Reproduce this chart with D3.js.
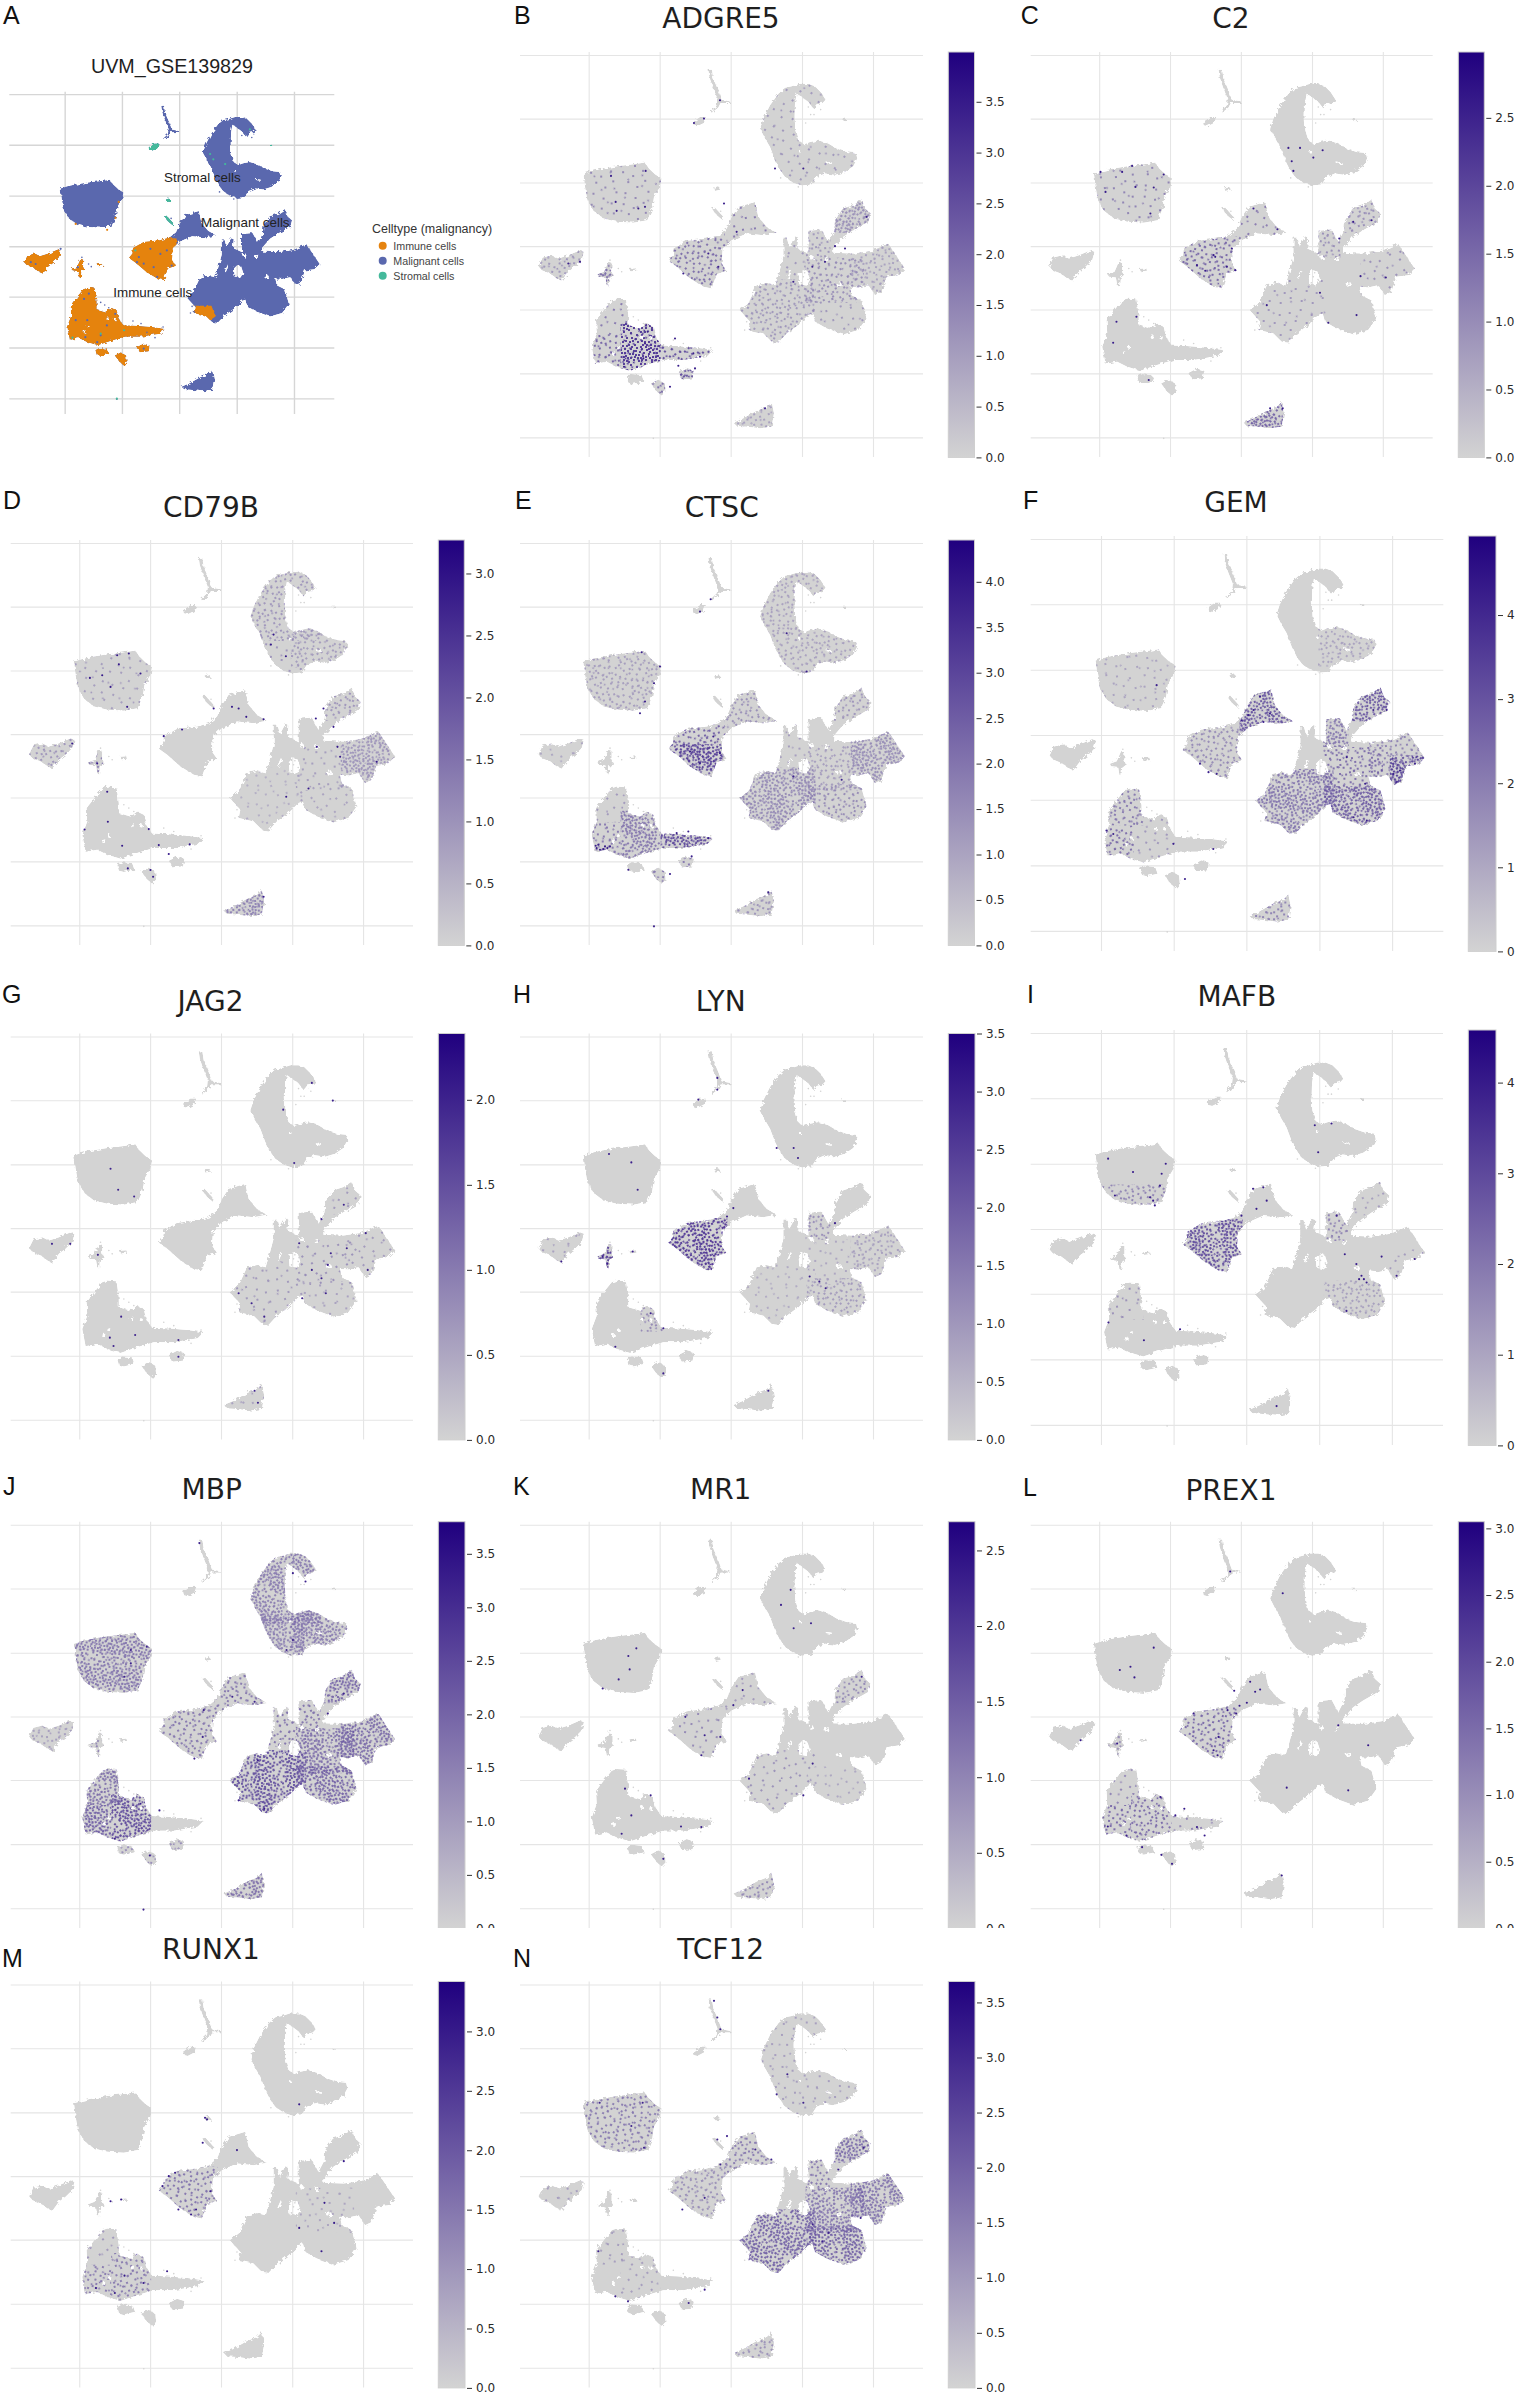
<!DOCTYPE html>
<html>
<head>
<meta charset="utf-8">
<style>
  html, body { margin: 0; padding: 0; background: #fff; }
  svg { display: block; }
</style>
<script src="https://cdn.jsdelivr.net/npm/d3@7"></script>
</head>
<body>
<svg id="chart" width="1515" height="2393"></svg>
<script>
// umap units (unlabelled axes, gridlines about 213 / 191 apart)
const xTicks = [-426, -213, 0, 214, 427];
const yTicks = [574, 383, 191, 0, -190, -382, -574];
const xDomain = [-632, 577];
const yDomain = [583, -633];

// cluster outlines
const crescent = [[183,480],[208,488],[233,488],[253,480],[270,463],[285,440],[276,430],[258,426],[248,413],[233,433],[213,448],[198,458],[193,428],[192,388],[194,348],[203,318],[220,306],[238,313],[263,318],[293,308],[318,293],[348,283],[376,280],[380,263],[368,240],[343,223],[313,214],[283,218],[258,208],[243,185],[213,182],[188,190],[163,208],[148,228],[133,258],[118,298],[103,323],[88,353],[98,383],[118,423],[143,458],[163,476]];
const square = [[-442,218],[-417,226],[-392,232],[-342,240],[-292,246],[-257,251],[-245,233],[-227,216],[-207,203],[-212,178],[-230,148],[-235,113],[-250,78],[-292,70],[-342,73],[-382,83],[-412,106],[-430,138],[-437,178]];
const leftSmall = [[-577,-60],[-564,-34],[-537,-27],[-517,-37],[-487,-27],[-452,-12],[-440,-17],[-447,-42],[-467,-62],[-487,-77],[-507,-104],[-522,-97],[-542,-82],[-567,-72]];
const cross = [[-400,-84],[-380,-77],[-367,-47],[-357,-50],[-357,-77],[-352,-87],[-364,-97],[-366,-122],[-372,-117],[-376,-94],[-397,-92]];
const dash = [[-304,-68],[-284,-66],[-282,-74],[-302,-76]];
const immuneLarge = [[-342,-157],[-314,-159],[-307,-207],[-307,-237],[-272,-247],[-252,-232],[-232,-242],[-225,-272],[-207,-298],[-162,-300],[-100,-305],[-52,-312],[-70,-330],[-142,-342],[-202,-342],[-252,-357],[-302,-374],[-342,-362],[-372,-347],[-407,-354],[-417,-302],[-402,-262],[-404,-222],[-377,-187],[-357,-162]];
const blobA = [[-312,-392],[-297,-384],[-267,-387],[-260,-407],[-292,-414],[-307,-410]];
const blobB = [[-240,-412],[-217,-400],[-197,-412],[-195,-437],[-207,-449],[-222,-437]];
const blobC = [[-157,-380],[-132,-367],[-110,-374],[-114,-397],[-147,-400]];
const bottom = [[8,-530],[38,-517],[78,-494],[108,-482],[123,-467],[130,-502],[123,-542],[88,-547],[48,-542],[18,-540]];
const center = [[-172,-7],[-132,16],[-72,23],[-37,33],[-12,53],[3,88],[23,118],[73,133],[83,88],[108,58],[138,40],[98,33],[48,38],[3,18],[-24,-7],[-27,-52],[-12,-74],[-42,-84],[-57,-127],[-82,-122],[-122,-97],[-162,-62],[-187,-44],[-174,-27]];
const sliver = [[-57,113],[-47,116],[-22,88],[-24,78],[-42,93]];
const speck = [[-50,176],[-37,181],[-29,170],[-47,166]];
const tinyRight = [[335,383],[346,383],[346,378],[335,378]];
const stalk = [[-67,530],[-56,530],[-52,503],[-37,468],[-27,440],[0,435],[0,430],[-30,430],[-37,416],[-57,400],[-60,406],[-42,423],[-40,443],[-54,478],[-64,508]];
const stalkBlob = [[-114,373],[-92,388],[-74,388],[-80,370],[-100,360],[-112,363]];
const tumour = [[26,-192],[53,-172],[78,-117],[108,-110],[134,-117],[146,-77],[158,-32],[158,26],[168,26],[176,-2],[193,30],[203,26],[200,-7],[233,-22],[233,46],[273,50],[293,13],[311,48],[313,78],[336,113],[368,123],[393,140],[403,113],[420,98],[413,73],[368,48],[338,28],[308,-7],[308,-20],[368,-22],[423,-14],[473,8],[493,-22],[523,-67],[503,-87],[468,-92],[453,-137],[433,-147],[413,-117],[383,-124],[358,-122],[363,-147],[393,-162],[408,-217],[383,-252],[338,-265],[288,-247],[253,-227],[246,-202],[233,-207],[203,-237],[168,-262],[143,-290],[123,-287],[98,-262],[53,-252],[58,-227]];
const clusterHoles = [
  [[204,-84],[216,-72],[230,-76],[238,-100],[228,-118],[206,-114]],
  [[170,-95],[180,-72],[183,-75],[173,-98]],
  [[236,-30],[246,-27],[250,-37],[240,-40]],
  [[315,-112],[330,-109],[334,-118],[320,-121]],
  [[284,-35],[294,-32],[291,-44],[282,-44]],
  [[-355,-318],[-348,-316],[-349,-326],[-356,-326]],
  [[-340,-302],[-333,-300],[-334,-308],[-341,-308]],
  [[-270,-270],[-262,-268],[-263,-277],[-271,-277]],
  [[-242,-270],[-235,-272],[-237,-280],[-244,-278]],
  [[285,254],[303,251],[303,247],[286,250]],
  [[205,288],[211,288],[211,282],[205,282]]
];
const immuneOutlines = [leftSmall, cross, dash, immuneLarge, blobA, blobB, blobC];
const malignantOutlines = [crescent, square, bottom, center, stalk, tumour];
const stromalOutlines = [sliver, speck, tinyRight, stalkBlob];
const allOutlines = [...malignantOutlines, ...immuneOutlines, ...stromalOutlines, ...clusterHoles];

// lone cells just off the clusters and in the gaps
const strayCells = [[248,423],[233,418],[203,178],[-172,-282],[-142,-292],[-292,-212],[-277,-222],[-262,-232],[-362,-42],[-337,-67],[-327,-77],[48,-227],[42,-252],[-232,-577],[-120,-325],[-90,-345],[-60,-305],[150,205],[270,410],[-30,105],[222,-80],[232,-100],[212,-110],[218,-92],[255,-45],[325,-114],[288,-38],[228,300],[240,395],[250,395],[225,370]];

// areas of the map where a gene shows up, clipped to the clusters when drawn
const areas = {
  square, squareSouth: [[-440,130],[-210,130],[-210,60],[-440,60]],
  crescent, crescentUpper: [[80,280],[300,280],[300,500],[80,500]],
  crescentLow: [[80,170],[250,170],[250,300],[80,300]],
  crescentTail: [[210,200],[400,200],[400,330],[210,330]],
  macro: [[-200,30],[-10,30],[-10,-140],[-200,-140]],
  macroCore: [[-180,-30],[-25,-30],[-25,-110],[-180,-110]],
  wing: [[-20,10],[-20,60],[10,140],[150,140],[150,10]],
  armTop: [[300,40],[300,150],[430,150],[430,40]],
  armEast: [[360,20],[530,20],[530,-160],[360,-160]],
  armEastTip: [[420,-60],[530,-60],[530,-160],[420,-160]],
  pocket: [[225,-35],[225,55],[300,55],[300,-35]],
  fan: [[140,-90],[140,35],[225,35],[225,-90]],
  hub: [[225,-35],[225,-170],[400,-170],[400,-35]],
  lowerLeft: [[20,-100],[20,-300],[255,-300],[255,-100]],
  lowerRight: [[228,-150],[228,-270],[420,-270],[420,-150]],
  immuneTop: [[-420,-150],[-300,-150],[-300,-265],[-420,-265]],
  immuneWest: [[-420,-265],[-330,-265],[-330,-370],[-420,-370]],
  immuneCenter: [[-330,-230],[-210,-230],[-210,-380],[-330,-380]],
  immuneTail: [[-210,-280],[-50,-280],[-50,-350],[-210,-350]],
  notch: [[-270,-230],[-200,-230],[-200,-310],[-270,-310]],
  leftSmall, cross, blobA, blobB, blobC, bottom
};

// panels B to N
const geneNames = ["ADGRE5","C2","CD79B","CTSC","GEM","JAG2","LYN","MAFB","MBP","MR1","PREX1","RUNX1","TCF12"];
const colorMax = [3.99,2.985,3.27,4.46,4.94,2.39,3.5,4.58,3.8,2.69,3.05,3.42,3.69];
const halfSteps = [0,0.5,1,1.5,2,2.5,3,3.5,4];
const colorTicks = [
  halfSteps.slice(0,8), halfSteps.slice(0,6), halfSteps.slice(0,7), halfSteps.slice(0,9),
  [0,1,2,3,4], halfSteps.slice(0,5), halfSteps.slice(0,8), [0,1,2,3,4],
  halfSteps.slice(0,8), halfSteps.slice(0,6), halfSteps.slice(0,7), halfSteps.slice(0,7), halfSteps.slice(0,8)
];
const topCellValue = [3.4,2.6,2.9,3.8,4.2,2.0,3.0,4.0,3.2,2.3,2.7,3.0,3.1];

// [area, expression level, density 1-3]
const adgre5Patches = [["immuneCenter",3,3],["immuneTail",2.6,2],["immuneWest",2.2,2],["immuneTop",1.8,1],["blobC",2.5,3],["blobB",2,2],["macro",2,2],["wing",1.8,1],["lowerLeft",1.2,2],["hub",1.4,2],["armEast",1,2],["armTop",1.3,3],["pocket",1.2,2],["fan",1.2,1],["lowerRight",1.2,1],["leftSmall",1.2,2],["cross",2,3],["square",1.5,1],["crescent",1.2,1],["bottom",1,2]];
const c2Patches = [["macro",1.6,2],["bottom",1.6,3],["square",1.2,1],["wing",1.3,1],["armTop",1,2],["pocket",1,2],["armEast",1,1],["lowerLeft",0.9,1]];
const cd79bPatches = [["armEast",1,3],["crescentUpper",1,2],["crescentLow",1,1],["crescentTail",0.9,2],["bottom",1.3,3],["armTop",1,2],["leftSmall",1,2],["cross",1.3,2],["lowerRight",0.8,1],["hub",0.9,1],["square",0.9,1],["lowerLeft",0.6,1]];
const ctscPatches = [["macroCore",3.2,3],["macro",2.5,2],["immuneTail",3,3],["immuneCenter",2,3],["immuneWest",2,2],["immuneTop",1.3,1],["lowerLeft",1.6,3],["lowerRight",1.6,2],["armEast",1.5,3],["armTop",1.4,2],["hub",1.2,2],["fan",1.2,1],["crescent",1.1,2],["square",1.2,2],["bottom",1.4,2],["wing",1.5,2],["blobC",2,2],["blobB",2,2],["leftSmall",1,1]];
const gemPatches = [["armEastTip",3.5,3],["armEast",2,2],["armTop",3,3],["wing",3,3],["lowerLeft",2.2,3],["lowerRight",2.8,3],["hub",2.5,2],["pocket",2.2,3],["immuneWest",2.5,2],["immuneTop",2.2,2],["macro",1.8,2],["bottom",2,2],["crescentTail",1.2,2],["square",1.2,1],["immuneCenter",1.5,1]];
const jag2Patches = [["hub",0.8,1],["lowerRight",0.6,1],["armEast",0.7,1],["lowerLeft",0.7,1],["armTop",0.7,1],["bottom",0.6,1]];
const lynPatches = [["macro",2.6,3],["cross",2.5,3],["lowerRight",1,2],["armEast",0.9,2],["pocket",1.2,2],["lowerLeft",0.7,1],["leftSmall",0.9,1],["notch",1.3,2],["hub",0.8,1]];
const mafbPatches = [["macro",3,3],["squareSouth",1.8,2],["armTop",1.2,1],["pocket",1.8,2],["lowerRight",1.2,2],["immuneTop",1.5,1],["armEastTip",1.3,1]];
const mbpPatches = [["lowerLeft",2.4,3],["immuneCenter",2.5,3],["immuneWest",2.1,3],["immuneTop",1.8,3],["lowerRight",2,3],["armTop",2,3],["armEast",1.9,3],["hub",1.8,3],["fan",1.8,2],["pocket",1.8,2],["square",1.7,3],["crescentUpper",1.6,3],["crescentLow",1.5,3],["crescentTail",1.6,3],["macro",1.7,2],["wing",1.7,2],["bottom",1.8,3],["leftSmall",1,2],["cross",1.5,2],["blobA",1.3,2],["blobB",1.3,2],["blobC",1.3,2]];
const mr1Patches = [["macro",1,1],["lowerLeft",0.9,1],["armTop",1,2],["wing",0.8,1],["lowerRight",0.6,1],["bottom",1,2]];
const prex1Patches = [["macro",1.6,2],["immuneCenter",1.6,2],["immuneWest",1.6,2],["immuneTop",1.2,1],["immuneTail",1.2,1],["cross",1,2]];
const runx1Patches = [["macro",1.6,2],["immuneCenter",1.5,2],["immuneWest",1.5,2],["immuneTop",1,1],["hub",0.8,1]];
const tcf12Patches = [["lowerLeft",2,3],["lowerRight",2,3],["hub",1.6,3],["armEast",1.7,3],["armTop",1.8,3],["pocket",1.7,2],["wing",1.6,2],["square",1.6,2],["macro",1.2,2],["immuneTop",1,1],["immuneCenter",1,1],["crescent",1,1],["bottom",1.2,2],["leftSmall",1,1]];
const genePatches = [adgre5Patches,c2Patches,cd79bPatches,ctscPatches,gemPatches,jag2Patches,lynPatches,mafbPatches,mbpPatches,mr1Patches,prex1Patches,runx1Patches,tcf12Patches];

// the darkest single cells of each gene
const adgre5Cells = [[133,233],[218,233],[-32,438],[-110,370],[-80,383],[-255,226],[-359,211],[-345,133],[-257,118],[-277,113],[-342,106],[-20,128],[18,43],[343,-7],[313,0],[188,-107],[283,-47],[245,-62],[-249,-257],[-257,-292],[-167,-277],[-112,-322],[-92,-332],[-157,-359],[-107,-367],[-182,-422],[-320,-362],[-262,-337],[103,-487],[-452,-47],[-487,-52],[-67,-22],[-37,-62],[-142,-82],[408,88]];
const c2Cells = [[-422,223],[-357,223],[-327,241],[-232,215],[-262,176],[-407,163],[-272,98],[-317,178],[178,295],[143,295],[153,255],[218,266],[158,226],[246,288],[38,113],[110,51],[-42,-62],[-82,-27],[-77,-32],[-132,-57],[-107,-74],[-27,-7],[-17,-72],[-374,-227],[-384,-290],[-314,-212],[-277,-402],[126,-487],[88,-487],[338,73],[393,78],[360,-90],[238,-140],[348,-207],[78,-177],[263,-230],[436,-94],[296,23]];
const cd79bCells = [[-312,237],[-277,242],[-307,210],[-242,182],[-357,177],[-394,169],[-332,142],[-282,82],[158,299],[195,234],[150,269],[-22,77],[53,77],[33,82],[128,45],[76,52],[-117,14],[-172,-6],[288,-38],[350,-38],[338,22],[308,77],[285,47],[358,-68],[468,-83],[196,-188],[263,-163],[-342,-173],[-340,-263],[-217,-285],[-187,-333],[-297,-335],[-410,-286],[-157,-360],[-94,-331],[-212,-408],[-204,-428],[-280,-403],[128,-488],[-447,-28],[-372,-88]];
const ctscCells = [[-402,-342],[-392,-347],[-377,-337],[-362,-337],[-397,-332],[-382,-345],[-405,-335],[-370,-342],[-60,405],[-92,368],[-267,246],[-212,203],[-230,153],[-257,98],[-272,63],[-230,-577],[-127,-292],[-162,-297],[-67,-312],[-117,-367],[-182,-420],[-307,-407],[113,-475],[-122,-52],[-92,-87],[-32,-57],[-52,-7],[333,-137],[188,-127],[168,303],[228,188]];
const gemCells = [[6,58],[-14,43],[21,73],[40,112],[69,63],[50,38],[-111,-109],[-87,-114],[-136,-84],[348,-143],[441,-138],[431,-114],[450,-104],[494,-84],[411,73],[372,73],[294,-65],[314,-241],[353,-251],[-390,-290],[-410,-280],[-214,-319],[-97,-334],[-180,-422],[-263,146]];
const jag2Cells = [[-332,178],[-261,95],[-309,115],[220,195],[187,355],[273,435],[336,382],[-453,-47],[-508,-47],[-370,-80],[-300,-265],[-258,-320],[-334,-328],[-323,-353],[-128,-385],[-128,-335],[101,-487],[111,-523],[435,-15],[378,-60],[330,-75],[321,-110],[273,-125],[302,-150],[315,-195],[244,-210],[92,-225],[53,-195],[130,-265],[369,70],[302,27],[441,-125],[235,-45]];
const lynCells = [[-384,-85],[-370,-105],[-294,-70],[-97,385],[-40,450],[-40,415],[-202,-435],[-240,-255],[-202,-300],[8,60],[-11,35],[138,240],[189,240],[202,210],[-365,222],[-298,197],[-279,115],[113,-487],[266,-160],[237,-145],[285,-180],[313,15],[-346,-355],[-508,-100]];
const mafbCells = [[-273,83],[-268,69],[-282,93],[-253,127],[-248,162],[-332,167],[-405,206],[-236,191],[-385,98],[338,-137],[345,-147],[353,-157],[331,-147],[397,-81],[494,-88],[441,-137],[323,-103],[289,-74],[265,39],[201,304],[250,309],[211,225],[-404,-274],[-300,-326],[-194,-294],[20,118],[50,122],[60,83],[30,59],[-14,39],[294,-240],[89,-519]];
const mbpCells = [[-65,519],[-233,-578],[-271,159],[-271,199],[-223,209],[-290,119],[216,429],[254,404],[216,229],[197,199],[-319,-366],[-242,-261],[-185,-281],[-214,-416],[130,-276],[53,-251],[111,-131],[321,9],[369,69],[-52,19],[101,44],[34,59],[-55,-61],[-80,-126]];
const mr1Cells = [[-283,204],[-307,181],[-303,141],[-336,111],[-384,84],[180,379],[189,264],[241,279],[151,334],[-78,-56],[-88,-116],[-136,-1],[-31,-61],[36,79],[8,34],[246,-141],[55,-186],[-317,-216],[-240,-236],[-298,-296],[-149,-329],[-88,-331],[-202,-426],[-327,-351],[393,119],[218,-236]];
const prex1Cells = [[-170,-276],[-109,-356],[-132,-331],[-32,434],[-262,206],[-332,149],[-320,117],[-364,139],[28,104],[58,81],[43,74],[-20,77],[18,41],[-4,32],[-40,19],[-14,9],[-82,-101],[-70,-116],[-67,-61],[-142,9],[-400,-329],[-344,-356],[-242,-241],[-297,-391],[-239,-414],[-207,-441],[126,369],[293,-26],[383,-86],[323,-221],[138,-213],[123,-476],[-482,-71],[-372,-81],[-197,-296]];
const runx1Cells = [[-48,175],[-42,170],[-90,-115],[-75,-100],[-128,-100],[-157,0],[-138,10],[-176,-30],[-32,-45],[-55,100],[48,78],[-300,-70],[-332,-75],[-162,-285],[-290,-298],[-376,-335],[-319,-350],[-233,-320],[302,-225],[369,45],[340,-140],[311,-80],[235,215],[235,-155]];
const tcf12Cells = [[-264,220],[-393,220],[-260,85],[-298,150],[-40,110],[-11,120],[122,50],[74,80],[-31,35],[138,245],[170,305],[218,220],[399,85],[323,20],[294,-170],[246,-145],[275,-195],[390,-125],[-397,-225],[-346,-360],[-308,-375],[-126,-380],[-78,-340],[-40,475],[-50,525],[-31,440],[-78,-65],[-145,-100]];
const geneCells = [adgre5Cells,c2Cells,cd79bCells,ctscCells,gemCells,jag2Cells,lynCells,mafbCells,mbpCells,mr1Cells,prex1Cells,runx1Cells,tcf12Cells];

// panel A
const cellTypes = ["Immune cells","Malignant cells","Stromal cells"];
const clusterLabels = ["Stromal cells","Malignant cells","Immune cells"];
const immuneInMalignant = [[[50,-225],[120,-225],[135,-265],[100,-290],[60,-255]]];
const malignantAmongImmune = [[-157,-60],[-132,-66],[-107,-10],[-70,-29],[-82,-116],[-46,-16],[-28,-73],[-95,-79],[-150,-41],[-336,-179],[-354,-199],[-385,-279],[-269,-299],[-238,-255],[-305,-362],[-349,-343],[-342,-279],[-292,-336],[-132,-386],[-377,-79],[-552,-60],[-534,-67],[-441,-10]];
const stromalScattered = [[115,348],[127,328],[263,441],[171,310],[-292,-330],[-205,-317],[-397,-345],[-163,-16],[-232,-575]];
const immuneScattered = [[-385,84],[-268,62],[-237,107],[-225,167]];

// one tile of cell positions for the stipple, px
const stippleTile = [[3,5],[14,2],[25,7],[9,13],[20,15],[30,17],[4,22],[15,25],[26,27],[11,30],[23,21],[1,14],
  [7,2],[19,5],[29,2],[5,10],[15,9],[24,12],[31,10],[12,18],[2,18],[26,20],[18,20],[8,24],[21,27],[29,24],[3,28],[16,30],[28,30],[11,6],[22,2],[18,11],[28,13],[8,17],[22,18],[13,22],[6,29],[25,24],[20,31],[1,9],
  [1,2],[10,1],[17,1],[26,1],[31,5],[7,6],[13,5],[16,7],[21,8],[27,5],[3,8],[9,9],[12,11],[20,11],[26,9],[30,7],[2,12],[6,13],[14,14],[17,14],[23,15],[27,16],[0,16],[5,17],[10,16],[15,18],[19,17],[25,18],[30,20],[4,20],[8,20],[11,21],[16,22],[20,23],[23,24],[28,22],[1,24],[5,25],[10,26],[14,27],[18,26],[27,26],[31,27],[2,31],[8,28],[12,31],[19,29],[23,30],[30,31],[25,29]];
const stippleCounts = [0,9,30,72];
const stippleGain = 1.3;

// layout, px: [left, right, top, bottom] of each map, then colorbar left/right
const geneBoxes = [
  [520,923,52,457],[1030.7,1432.7,52,457],
  [10.7,413,540,945],[520,923,540,945],[1030.7,1443.3,536,951],
  [10.7,413,1033.5,1439.5],[520,923,1033.5,1439.5],[1030.7,1443,1030,1445],
  [10.7,413,1521.7,1928],[520,923,1521.7,1928],[1030.7,1432.7,1521.7,1928],
  [10.7,413,1981.5,2387.5],[520,923,1981.5,2387.5]
];
const barX = [[948.3,974.5],[1458.3,1484.3],[438.3,464.3],[948.3,974.5],[1468.3,1496],[438.3,465],[948.3,975],[1468.3,1496],[438.3,465],[948.3,975],[1458.3,1484.3],[438.3,465],[948.3,975]];
const titleAt = [[721,28],[1231,28],[211,517],[721.7,517],[1236,512],[210.5,1010.7],[720.7,1010.7],[1236.8,1006],[211.7,1499.3],[720.7,1499.3],[1231,1500],[211,1958.7],[720.7,1958.7]];
const letters = ["A","B","C","D","E","F","G","H","I","J","K","L","M","N"];
const letterAt = [[3,24],[514,24],[1020.7,24],[3,509],[515,509],[1023,509],[2,1003],[513,1003],[1027,1003],[3,1495],[513,1495],[1023,1496],[2,1967],[513,1967]];

const sans = "'DejaVu Sans', sans-serif";
const arial = "'Liberation Sans', Arial, sans-serif";
const ramp = d3.interpolateRgb("#d3d3d3", "#20007f");
const cellGrey = "#d3d3d3";

const svg = d3.select("#chart");
svg.append("rect").attr("width", 1515).attr("height", 2393).attr("fill", "#fff");
const defs = svg.append("defs");

// uneven cluster edges instead of clean polygons
const rough = defs.append("filter").attr("id", "rough")
  .attr("x", "-5%").attr("y", "-5%").attr("width", "110%").attr("height", "110%");
rough.append("feTurbulence").attr("type", "fractalNoise").attr("baseFrequency", 0.3).attr("numOctaves", 2).attr("seed", 4).attr("result", "n");
rough.append("feDisplacementMap").attr("in", "SourceGraphic").attr("in2", "n").attr("scale", 5).attr("result", "d");
rough.append("feGaussianBlur").attr("in", "d").attr("stdDeviation", 0.3);

const soft = defs.append("filter").attr("id", "soft");
soft.append("feGaussianBlur").attr("stdDeviation", 0.25);

const gradient = defs.append("linearGradient").attr("id", "barFill").attr("x1", 0).attr("x2", 0).attr("y1", 1).attr("y2", 0);
gradient.append("stop").attr("offset", "0%").attr("stop-color", ramp(0));
gradient.append("stop").attr("offset", "100%").attr("stop-color", ramp(1));

function makeMap(box, id, gridColor, gridWidth) {
  const x = d3.scaleLinear().domain(xDomain).range([box[0], box[1]]);
  const y = d3.scaleLinear().domain(yDomain).range([box[2], box[3]]);
  const line = d3.line().x(d => x(d[0])).y(d => y(d[1]));
  const shape = pts => line(pts) + "Z";
  const g = svg.append("g");

  const gx = g.append("g").attr("transform", `translate(0,${box[3]})`)
    .call(d3.axisBottom(x).tickValues(xTicks).tickSize(-(box[3] - box[2])).tickFormat(""));
  const gy = g.append("g").attr("transform", `translate(${box[0]},0)`)
    .call(d3.axisLeft(y).tickValues(yTicks).tickSize(-(box[1] - box[0])).tickFormat(""));
  [gx, gy].forEach(a => {
    a.select(".domain").remove();
    a.selectAll("line").attr("stroke", gridColor).attr("stroke-width", gridWidth);
  });

  const allPath = allOutlines.map(shape).join("");
  defs.append("clipPath").attr("id", "clip" + id).append("path")
    .attr("d", allPath).attr("clip-rule", "evenodd");
  // rough layer for the cluster bodies, plain layer on top for stippled cells
  const cells = g.append("g").attr("filter", "url(#rough)")
    .append("g").attr("clip-path", `url(#clip${id})`);
  const specks = g.append("g").attr("filter", "url(#soft)")
    .append("g").attr("clip-path", `url(#clip${id})`);
  return { g, x, y, shape, cells, specks };
}

function dots(parent, pts, map, color, r) {
  parent.selectAll(null).data(pts).enter().append("circle")
    .attr("cx", d => map.x(d[0])).attr("cy", d => map.y(d[1]))
    .attr("r", r).attr("fill", color);
}

// panel A
const mapA = makeMap([9.3,334.3,91.7,414], "A", "#d6d6d6", 1.4);
const typeColor = { immune: "#e5830f", malignant: "#5a68ae", stromal: "#44b99b" };
const paintA = (outlines, color) => mapA.cells.selectAll(null).data(outlines).enter().append("path")
  .attr("d", mapA.shape).attr("fill", color);
mapA.cells.append("path").attr("d", allOutlines.map(mapA.shape).join(""))
  .attr("fill", typeColor.malignant).attr("fill-rule", "evenodd");
paintA(immuneOutlines, typeColor.immune);
paintA(stromalOutlines, typeColor.stromal);
paintA([areas.macro], typeColor.immune);
paintA(immuneInMalignant, typeColor.immune);
dots(mapA.g, strayCells.slice(0, 20), mapA, typeColor.malignant, 0.8);
dots(mapA.g, malignantAmongImmune, mapA, typeColor.malignant, 1.1);
dots(mapA.g, stromalScattered, mapA, typeColor.stromal, 1.1);
dots(mapA.g, immuneScattered, mapA, typeColor.immune, 1.1);

svg.append("text").attr("x", 172).attr("y", 73).attr("text-anchor", "middle")
  .style("font", `19.7px ${arial}`).attr("fill", "#1f1f1f").text("UVM_GSE139829");
const labelAt = [[164,182],[201,226.7],[113.3,296.7]];
svg.selectAll(null).data(clusterLabels).enter().append("text")
  .attr("x", (d, i) => labelAt[i][0]).attr("y", (d, i) => labelAt[i][1])
  .style("font", `13.4px ${arial}`).attr("fill", "#222").text(d => d);

svg.append("text").attr("x", 372).attr("y", 232.7)
  .style("font", `12.5px ${arial}`).attr("fill", "#333").text("Celltype (malignancy)");
const legend = svg.selectAll(null).data(cellTypes).enter().append("g")
  .attr("transform", (d, i) => `translate(382.7,${245.7 + i * 15})`);
legend.append("circle").attr("r", 4).attr("fill", (d, i) => [typeColor.immune, typeColor.malignant, typeColor.stromal][i]);
legend.append("text").attr("x", 10.6).attr("y", 3.8)
  .style("font", `10.7px ${arial}`).attr("fill", "#444").text(d => d);

// two tiles at different angle and size on top of each other, so no lattice shows
function stipple(box, color, count, angle, scale) {
  const id = "st" + (patternCount++);
  const p = defs.append("pattern").attr("id", id)
    .attr("patternUnits", "userSpaceOnUse").attr("width", 32).attr("height", 32)
    .attr("patternTransform", `translate(${box[0]},${box[2]}) rotate(${angle}) scale(${scale})`);
  p.selectAll("circle").data(stippleTile.slice(0, count)).enter().append("circle")
    .attr("cx", d => d[0]).attr("cy", d => d[1]).attr("r", 0.95 / scale).attr("fill", color);
  return `url(#${id})`;
}

// gene panels
let patternCount = 0;
geneNames.forEach((gene, i) => {
  const box = geneBoxes[i];
  const map = makeMap(box, i, "#e5e5e5", 1.1);
  const level = v => ramp(Math.min(1, v / colorMax[i]));

  map.cells.append("path").attr("d", allOutlines.map(map.shape).join(""))
    .attr("fill", cellGrey).attr("fill-rule", "evenodd");

  genePatches[i].forEach(([area, value, density], k) => {
    const count = stippleCounts[density];
    map.specks.append("path").attr("d", map.shape(areas[area]))
      .attr("fill", stipple(box, level(value * stippleGain), count, (k * 37 + i * 11) % 90, 1));
    map.specks.append("path").attr("d", map.shape(areas[area]))
      .attr("fill", stipple(box, level(value), count, (k * 37 + i * 11 + 53) % 90, 1.37));
  });

  dots(map.g, strayCells, map, cellGrey, 0.8);
  dots(map.g, geneCells[i], map, level(topCellValue[i]), 1.05);

  // colorbar
  const [bx0, bx1] = barX[i];
  const barScale = d3.scaleLinear().domain([0, colorMax[i]]).range([box[3] + 0.4, box[2]]);
  svg.append("rect").attr("x", bx0).attr("y", box[2]).attr("width", bx1 - bx0).attr("height", box[3] - box[2] + 0.4)
    .attr("fill", "url(#barFill)").attr("stroke", "#cfcfcf").attr("stroke-width", 1);
  const axis = svg.append("g").attr("transform", `translate(${bx1 + 2},0)`)
    .call(d3.axisRight(barScale).tickValues(colorTicks[i]).tickSize(5).tickPadding(4)
      .tickFormat(v => [4, 7].includes(i) ? d3.format("d")(v) : d3.format(".1f")(v)));
  axis.select(".domain").remove();
  axis.selectAll("line").attr("stroke", "#333");
  axis.selectAll("text").style("font", `12px ${sans}`).attr("fill", "#2a2a2a");

  svg.append("text").attr("x", titleAt[i][0]).attr("y", titleAt[i][1]).attr("text-anchor", "middle")
    .style("font", `28px ${sans}`).attr("fill", "#1f1f1f").text(gene);
});

// the row below sits on top of the bottoms of row J-L
svg.append("rect").attr("x", 0).attr("y", 1928).attr("width", 1515).attr("height", 8).attr("fill", "#fff");

svg.selectAll(null).data(letters).enter().append("text")
  .attr("x", (d, i) => letterAt[i][0]).attr("y", (d, i) => letterAt[i][1])
  .style("font", `25px ${arial}`).attr("fill", "#111").text(d => d);
</script>
</body>
</html>
